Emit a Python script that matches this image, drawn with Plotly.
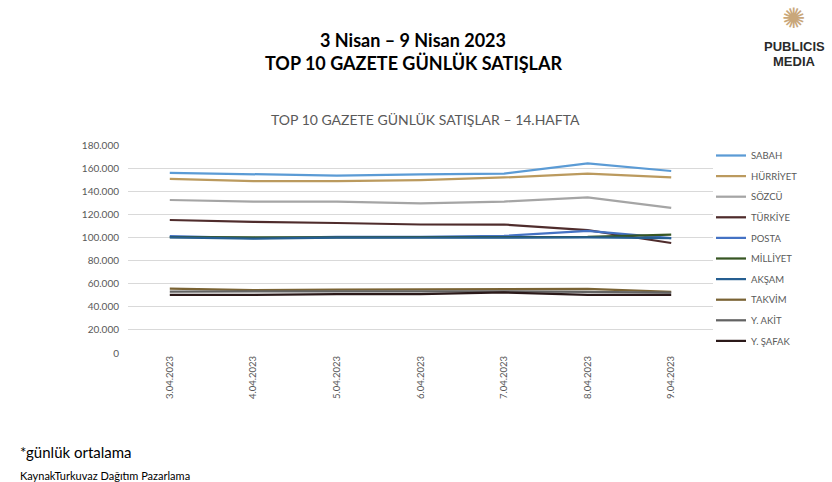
import plotly.graph_objects as go

dates = ["3.04.2023", "4.04.2023", "5.04.2023", "6.04.2023", "7.04.2023", "8.04.2023", "9.04.2023"]
names = ["SABAH", "HÜRRİYET", "SÖZCÜ", "TÜRKİYE", "POSTA", "MİLLİYET", "AKŞAM", "TAKVİM", "Y. AKİT", "Y. ŞAFAK"]

sabah    = [155800, 154600, 153600, 154500, 155300, 164000, 157500]
hurriyet = [150600, 148800, 148800, 149700, 151900, 155300, 151900]
sozcu    = [132400, 131100, 131100, 129400, 131100, 134600, 125500]
turkiye  = [115100, 113400, 112500, 111200, 111200, 106400, 95200]
posta    = [101200, 99500, 100400, 100400, 101300, 105600, 99500]
milliyet = [100200, 99800, 100000, 100200, 100300, 100500, 102500]
aksam    = [100000, 99000, 99800, 100000, 100000, 100000, 99300]
takvim   = [55800, 54500, 54800, 55200, 55400, 55400, 52800]
yakit    = [53200, 53300, 53200, 53500, 53300, 53000, 52300]
ysafak   = [50200, 50200, 51000, 51000, 52400, 50200, 50200]

series = [sabah, hurriyet, sozcu, turkiye, posta, milliyet, aksam, takvim, yakit, ysafak]
colors = ["#5B9BD5", "#BB9A5E", "#A5A5A5", "#4F2C2C", "#4472C4", "#375623",
          "#255E91", "#7A6334", "#636363", "#2B1919"]

fig = go.Figure()
for i, (n, s, c) in enumerate(zip(names, series, colors)):
    fig.add_trace(go.Scatter(x=dates, y=s, name=n, mode="lines",
                             line=dict(color=c, width=2.25),
                             legendgroup=f"g{i}"))

font_family = "Lato, 'Open Sans', sans-serif"


def px_x(x):
    return (x - 128) / 585


def px_y(y):
    return (353 - y) / 208


fig.update_layout(
    width=832, height=482,
    margin=dict(l=128, r=119, t=145, b=129),
    paper_bgcolor="white", plot_bgcolor="white",
    separators=",.",
    font=dict(family=font_family, color="#595959"),
    showlegend=True,
    legend=dict(x=px_x(711), y=px_y(141), xanchor="left", yanchor="top",
                font=dict(size=9.5, color="#595959"),
                tracegroupgap=1.6, itemwidth=30, maxheight=400,
                bgcolor="rgba(0,0,0,0)"),
    xaxis=dict(type="category", range=[-0.5, 6.5], tickangle=-90,
               tickfont=dict(size=9.5, color="#595959"), showgrid=False,
               showline=False, ticks=""),
    yaxis=dict(range=[0, 180000], dtick=20000, tickformat=",d",
               tickfont=dict(size=10, color="#595959"),
               gridcolor="#D9D9D9", gridwidth=1, zeroline=False,
               showline=False, ticks="", ticklabelstandoff=8),
)

ann = [
    dict(text="<b>3 Nisan – 9 Nisan 2023</b>", x=413, y=40, size=18, color="black"),
    dict(text="<b>TOP 10 GAZETE GÜNLÜK SATIŞLAR</b>", x=413, y=63, size=18, color="black"),
    dict(text="TOP 10 GAZETE GÜNLÜK SATIŞLAR – 14.HAFTA", x=425, y=119, size=14, color="#595959"),
]
for a in ann:
    fig.add_annotation(text=a["text"], xref="paper", yref="paper",
                       x=px_x(a["x"]), y=px_y(a["y"]),
                       xanchor="center", yanchor="middle", showarrow=False,
                       font=dict(size=a["size"], color=a["color"], family=font_family))

fig.add_annotation(text="*günlük ortalama", xref="paper", yref="paper",
                   x=px_x(18), y=px_y(452), xanchor="left", yanchor="middle",
                   showarrow=False, font=dict(size=15, color="black", family=font_family))
fig.add_annotation(text="KaynakTurkuvaz Dağıtım Pazarlama", xref="paper", yref="paper",
                   x=px_x(18), y=px_y(475), xanchor="left", yanchor="middle",
                   showarrow=False, font=dict(size=11, color="black", family=font_family))

# logo
fig.add_annotation(text="✺", xref="paper", yref="paper",
                   x=px_x(793), y=px_y(19), xanchor="center", yanchor="middle",
                   showarrow=False, font=dict(size=28, color="#C9A77A", family="DejaVu Sans"))
fig.add_annotation(text="<b>PUBLICIS</b>", xref="paper", yref="paper",
                   x=px_x(794), y=px_y(47), xanchor="center", yanchor="middle",
                   showarrow=False, font=dict(size=13, color="#2a2a2a", family="Liberation Sans, Arial"))
fig.add_annotation(text="<b>MEDIA</b>", xref="paper", yref="paper",
                   x=px_x(794), y=px_y(61), xanchor="center", yanchor="middle",
                   showarrow=False, font=dict(size=13, color="#2a2a2a", family="Liberation Sans, Arial"))

fig.write_html("out.html")
